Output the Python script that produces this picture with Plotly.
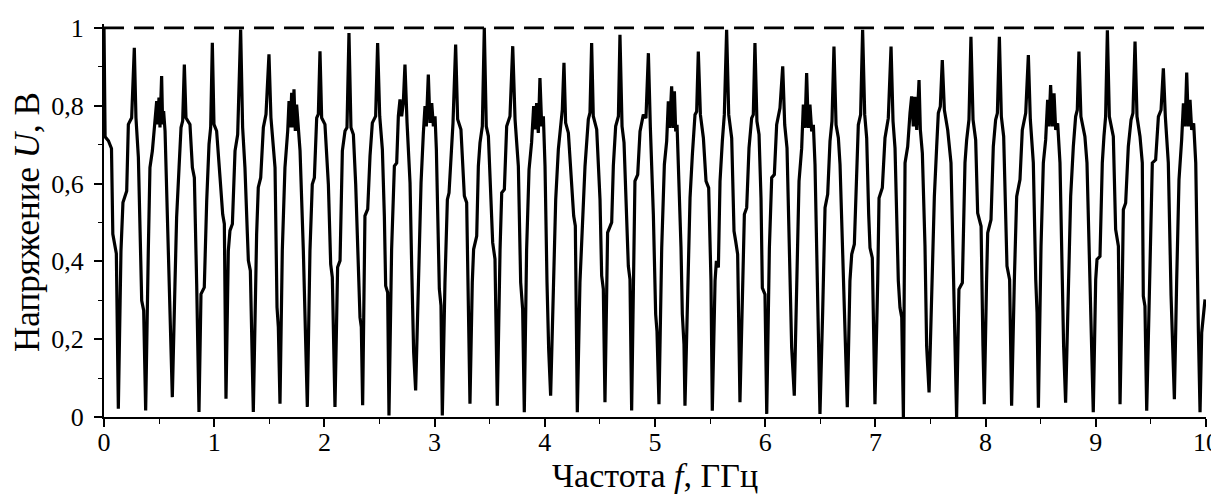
import plotly.graph_objects as go

# ---- data -----------------------------------------------------------------
freq_ghz = [
    0.000, 0.010, 0.040, 0.068, 0.080, 0.090, 0.112,
    0.130, 0.154, 0.172, 0.206, 0.221, 0.251, 0.275, 0.290, 0.312, 0.342, 0.360,
    0.378, 0.402, 0.417, 0.439, 0.463, 0.478, 0.487, 0.499, 0.508, 0.523, 0.532, 0.541, 0.554, 0.563, 0.578, 0.590, 0.602,
    0.620, 0.644, 0.659, 0.681, 0.699, 0.714, 0.729, 0.744, 0.780, 0.802, 0.820, 0.841,
    0.862, 0.880, 0.910, 0.932, 0.953, 0.968, 0.983, 0.998, 1.022, 1.053, 1.077, 1.092,
    1.107, 1.128, 1.143, 1.165, 1.189, 1.213, 1.240, 1.258, 1.279, 1.301, 1.310, 1.328,
    1.355, 1.385, 1.400, 1.422, 1.446, 1.470, 1.497, 1.515, 1.537, 1.552, 1.570, 1.582,
    1.597, 1.618, 1.642, 1.667, 1.679, 1.691, 1.703, 1.715, 1.724, 1.736, 1.748, 1.763, 1.779, 1.809, 1.830,
    1.845, 1.869, 1.890, 1.909, 1.930, 1.945, 1.960, 1.975, 2.005, 2.036, 2.057, 2.072,
    2.096, 2.120, 2.142, 2.163, 2.187, 2.205, 2.223, 2.241, 2.263, 2.284, 2.308, 2.323, 2.335,
    2.347, 2.368, 2.393, 2.414, 2.435, 2.465, 2.483, 2.502, 2.526, 2.544, 2.556, 2.574,
    2.586, 2.610, 2.635, 2.656, 2.671, 2.686, 2.701, 2.716, 2.731, 2.750, 2.777, 2.792, 2.810,
    2.828, 2.852, 2.877, 2.898, 2.913, 2.925, 2.943, 2.958, 2.974, 2.989, 3.004, 3.016, 3.034, 3.043, 3.058,
    3.070, 3.094, 3.116, 3.131, 3.149, 3.167, 3.191, 3.209, 3.239, 3.270, 3.291, 3.306,
    3.321, 3.342, 3.354, 3.382, 3.397, 3.412, 3.433, 3.451, 3.469, 3.488, 3.512, 3.527, 3.548,
    3.569, 3.594, 3.609, 3.633, 3.654, 3.684, 3.709, 3.730, 3.760, 3.781, 3.799,
    3.814, 3.835, 3.857, 3.880, 3.899, 3.911, 3.926, 3.941, 3.956, 3.972, 3.987, 4.002, 4.020, 4.035,
    4.053, 4.077, 4.099, 4.123, 4.144, 4.159, 4.174, 4.189, 4.214, 4.244, 4.262, 4.277,
    4.295, 4.319, 4.341, 4.365, 4.395, 4.410, 4.425, 4.440, 4.471, 4.501, 4.516, 4.531,
    4.546, 4.570, 4.607, 4.622, 4.643, 4.668, 4.682, 4.701, 4.719, 4.743, 4.758, 4.773,
    4.788, 4.818, 4.843, 4.864, 4.894, 4.918, 4.940, 4.958, 4.985, 5.006, 5.018,
    5.036, 5.061, 5.085, 5.106, 5.121, 5.133, 5.151, 5.164, 5.176, 5.188, 5.200, 5.212, 5.236, 5.248, 5.263,
    5.272, 5.297, 5.318, 5.339, 5.363, 5.378, 5.393, 5.412, 5.439, 5.463, 5.487, 5.508,
    5.520, 5.545, 5.557, 5.575, 5.590, 5.611, 5.629, 5.650, 5.669, 5.696, 5.717, 5.732, 5.750,
    5.771, 5.793, 5.811, 5.832, 5.853, 5.877, 5.892, 5.907, 5.925, 5.944, 5.962, 5.974, 5.998,
    6.014, 6.038, 6.059, 6.083, 6.104, 6.134, 6.159, 6.177, 6.198, 6.222, 6.240,
    6.264, 6.285, 6.307, 6.331, 6.346, 6.361, 6.376, 6.391, 6.406, 6.422, 6.437, 6.452, 6.476,
    6.497, 6.521, 6.543, 6.567, 6.588, 6.606, 6.624, 6.643, 6.664, 6.679, 6.700, 6.718,
    6.745, 6.769, 6.785, 6.809, 6.830, 6.845, 6.866, 6.884, 6.903, 6.921, 6.939, 6.951, 6.972,
    6.996, 7.021, 7.033, 7.063, 7.087, 7.117, 7.142, 7.160, 7.178, 7.208, 7.223, 7.239,
    7.254, 7.269, 7.293, 7.314, 7.329, 7.344, 7.359, 7.375, 7.396, 7.408, 7.426, 7.450, 7.465,
    7.487, 7.511, 7.535, 7.556, 7.571, 7.589, 7.607, 7.626, 7.656, 7.686, 7.707,
    7.737, 7.758, 7.789, 7.813, 7.828, 7.849, 7.867, 7.886, 7.910, 7.928, 7.959, 7.976,
    7.988, 8.009, 8.019, 8.049, 8.070, 8.091, 8.107, 8.125, 8.143, 8.164, 8.182, 8.194, 8.218,
    8.236, 8.261, 8.282, 8.312, 8.333, 8.364, 8.388, 8.406, 8.433, 8.455, 8.467,
    8.479, 8.503, 8.524, 8.545, 8.563, 8.575, 8.590, 8.606, 8.621, 8.636, 8.654, 8.675, 8.696, 8.708,
    8.726, 8.751, 8.772, 8.796, 8.817, 8.832, 8.847, 8.865, 8.901, 8.920, 8.938, 8.956,
    8.977, 8.999, 9.011, 9.038, 9.059, 9.074, 9.089, 9.105, 9.123, 9.159, 9.180, 9.205,
    9.220, 9.241, 9.250, 9.271, 9.295, 9.320, 9.337, 9.356, 9.374, 9.401, 9.422, 9.431, 9.446,
    9.462, 9.492, 9.513, 9.543, 9.568, 9.592, 9.613, 9.631, 9.658, 9.683, 9.695,
    9.713, 9.734, 9.755, 9.779, 9.795, 9.810, 9.825, 9.840, 9.855, 9.870, 9.888, 9.907, 9.922, 9.931,
    9.946, 9.961, 9.991,
]

voltage_v = [
    1.000, 0.720, 0.710, 0.690, 0.470, 0.450, 0.420,
    0.021, 0.427, 0.551, 0.581, 0.752, 0.769, 0.949, 0.769, 0.667, 0.299, 0.274,
    0.017, 0.427, 0.641, 0.684, 0.769, 0.812, 0.752, 0.821, 0.744, 0.876, 0.752, 0.786, 0.735, 0.641, 0.470, 0.299, 0.167,
    0.051, 0.342, 0.513, 0.641, 0.744, 0.761, 0.906, 0.769, 0.752, 0.641, 0.615, 0.342,
    0.013, 0.316, 0.333, 0.556, 0.701, 0.744, 0.962, 0.752, 0.735, 0.615, 0.521, 0.496,
    0.047, 0.427, 0.479, 0.496, 0.684, 0.726, 0.996, 0.744, 0.641, 0.470, 0.402, 0.376,
    0.013, 0.470, 0.590, 0.615, 0.744, 0.778, 0.932, 0.769, 0.701, 0.641, 0.282, 0.231,
    0.034, 0.427, 0.641, 0.735, 0.812, 0.744, 0.833, 0.744, 0.842, 0.735, 0.803, 0.735, 0.684, 0.427, 0.214,
    0.026, 0.427, 0.598, 0.615, 0.769, 0.778, 0.940, 0.769, 0.752, 0.598, 0.393, 0.359,
    0.026, 0.385, 0.402, 0.684, 0.735, 0.744, 0.987, 0.744, 0.726, 0.598, 0.342, 0.256, 0.231,
    0.030, 0.517, 0.534, 0.671, 0.756, 0.773, 0.961, 0.773, 0.688, 0.517, 0.337, 0.320,
    0.004, 0.431, 0.645, 0.653, 0.773, 0.816, 0.773, 0.807, 0.906, 0.756, 0.602, 0.388, 0.166,
    0.068, 0.346, 0.602, 0.730, 0.799, 0.747, 0.880, 0.756, 0.807, 0.747, 0.773, 0.688, 0.474, 0.329, 0.286,
    0.004, 0.346, 0.559, 0.576, 0.688, 0.756, 0.957, 0.765, 0.739, 0.568, 0.551, 0.260,
    0.034, 0.346, 0.431, 0.465, 0.645, 0.705, 0.747, 1.000, 0.747, 0.722, 0.517, 0.448, 0.406,
    0.029, 0.431, 0.576, 0.585, 0.747, 0.773, 0.953, 0.765, 0.645, 0.346, 0.277,
    0.012, 0.431, 0.636, 0.705, 0.799, 0.739, 0.807, 0.730, 0.871, 0.747, 0.773, 0.645, 0.346, 0.175,
    0.055, 0.346, 0.559, 0.688, 0.756, 0.790, 0.910, 0.756, 0.730, 0.602, 0.517, 0.491,
    0.012, 0.346, 0.474, 0.645, 0.765, 0.782, 0.961, 0.773, 0.739, 0.559, 0.363, 0.329,
    0.038, 0.474, 0.500, 0.645, 0.747, 0.773, 0.982, 0.747, 0.705, 0.517, 0.388, 0.354,
    0.017, 0.606, 0.623, 0.734, 0.777, 0.768, 0.935, 0.743, 0.521, 0.264, 0.221,
    0.033, 0.435, 0.649, 0.709, 0.811, 0.743, 0.850, 0.743, 0.837, 0.734, 0.751, 0.649, 0.435, 0.264, 0.187,
    0.029, 0.350, 0.563, 0.674, 0.777, 0.785, 0.939, 0.777, 0.717, 0.606, 0.589, 0.350,
    0.016, 0.350, 0.401, 0.384, 0.606, 0.709, 0.777, 0.995, 0.777, 0.717, 0.478, 0.452, 0.418,
    0.038, 0.350, 0.521, 0.538, 0.691, 0.768, 0.777, 0.961, 0.760, 0.726, 0.563, 0.332, 0.315,
    0.008, 0.435, 0.615, 0.623, 0.751, 0.794, 0.901, 0.751, 0.691, 0.392, 0.179,
    0.055, 0.350, 0.606, 0.691, 0.803, 0.743, 0.884, 0.743, 0.803, 0.734, 0.751, 0.649, 0.350,
    0.008, 0.264, 0.538, 0.572, 0.709, 0.760, 0.952, 0.751, 0.717, 0.649, 0.435, 0.247,
    0.025, 0.350, 0.418, 0.444, 0.649, 0.751, 0.777, 0.995, 0.777, 0.717, 0.521, 0.435, 0.409,
    0.033, 0.350, 0.563, 0.589, 0.717, 0.768, 0.952, 0.760, 0.691, 0.350, 0.281, 0.256,
    0.000, 0.653, 0.695, 0.781, 0.824, 0.747, 0.823, 0.738, 0.866, 0.738, 0.678, 0.439, 0.182,
    0.063, 0.353, 0.567, 0.695, 0.781, 0.798, 0.917, 0.789, 0.738, 0.653, 0.353,
    0.000, 0.328, 0.345, 0.653, 0.712, 0.764, 0.977, 0.764, 0.712, 0.524, 0.490, 0.182,
    0.033, 0.353, 0.473, 0.507, 0.695, 0.764, 0.781, 0.977, 0.772, 0.721, 0.559, 0.388, 0.353,
    0.029, 0.353, 0.567, 0.610, 0.738, 0.781, 0.930, 0.764, 0.653, 0.353, 0.268,
    0.024, 0.439, 0.653, 0.712, 0.815, 0.747, 0.853, 0.747, 0.832, 0.738, 0.755, 0.653, 0.353, 0.182,
    0.037, 0.353, 0.567, 0.695, 0.772, 0.789, 0.939, 0.772, 0.721, 0.653, 0.439, 0.268,
    0.012, 0.353, 0.405, 0.413, 0.653, 0.721, 0.772, 0.994, 0.772, 0.721, 0.482, 0.439,
    0.033, 0.353, 0.533, 0.550, 0.695, 0.764, 0.781, 0.965, 0.772, 0.721, 0.653, 0.311, 0.285,
    0.016, 0.353, 0.653, 0.661, 0.772, 0.789, 0.896, 0.772, 0.653, 0.311, 0.182,
    0.046, 0.353, 0.610, 0.712, 0.806, 0.747, 0.885, 0.747, 0.815, 0.738, 0.755, 0.653, 0.268, 0.217,
    0.012, 0.217, 0.302,
]

ref_freq_ghz = [0.0, 10.0]
ref_voltage_v = [1.0, 1.0]

x_tick_vals = [0, 1, 2, 3, 4, 5, 6, 7, 8, 9, 10]
x_tick_text = ["0", "1", "2", "3", "4", "5", "6", "7", "8", "9", "10"]
y_tick_vals = [0, 0.2, 0.4, 0.6, 0.8, 1.0]
y_tick_text = ["0", "0,2", "0,4", "0,6", "0,8", "1"]

x_title = "Частота <i>f</i>, ГГц"
y_title = "Напряжение <i>U</i>, В"

assert len(freq_ghz) == len(voltage_v), (len(freq_ghz), len(voltage_v))

# ---- figure ----------------------------------------------------------------
FONT = "Liberation Serif, Times New Roman, DejaVu Serif, serif"

fig = go.Figure()
fig.add_trace(go.Scatter(
    x=ref_freq_ghz, y=ref_voltage_v, mode="lines",
    line=dict(color="black", width=2.8, dash="20px,10px"),
    hoverinfo="skip", showlegend=False,
))
fig.add_trace(go.Scatter(
    x=freq_ghz, y=voltage_v, mode="lines",
    line=dict(color="black", width=3.2),
    showlegend=False,
))

# the page body has an 8 px default margin, so the figure is sized to fit
fig.update_layout(
    width=1211, height=488,
    margin=dict(l=96, r=13, t=16, b=79, autoexpand=False),
    paper_bgcolor="white", plot_bgcolor="white",
    font=dict(family=FONT, color="black", size=26),
    annotations=[
        dict(text=x_title, xref="paper", yref="paper", x=0.5, y=-0.148,
             xanchor="center", yanchor="middle", showarrow=False,
             font=dict(family=FONT, size=34, color="black")),
        dict(text=y_title, xref="paper", yref="paper", x=-0.070, y=0.496,
             xanchor="center", yanchor="middle", showarrow=False, textangle=-90,
             font=dict(family=FONT, size=35, color="black")),
    ],
)
fig.update_xaxes(
    range=[0, 10], tickvals=x_tick_vals, ticktext=x_tick_text,
    showgrid=False, zeroline=False, automargin=False,
    showline=True, linecolor="black", linewidth=2,
    ticks="outside", ticklen=8, tickwidth=1.5, tickcolor="black",
    minor=dict(dtick=0.5, ticks="outside", ticklen=5, tickwidth=1.2, tickcolor="black"),
    tickfont=dict(family=FONT, size=26), ticklabelstandoff=-7,
)
fig.update_yaxes(
    range=[0, 1.01], tickvals=y_tick_vals, ticktext=y_tick_text,
    showgrid=False, zeroline=False, automargin=False,
    showline=True, linecolor="black", linewidth=2,
    ticks="outside", ticklen=8, tickwidth=1.5, tickcolor="black",
    minor=dict(dtick=0.1, ticks="outside", ticklen=4, tickwidth=1.2, tickcolor="black"),
    tickfont=dict(family=FONT, size=26), ticklabelstandoff=5,
)

fig.write_html("out.html")
